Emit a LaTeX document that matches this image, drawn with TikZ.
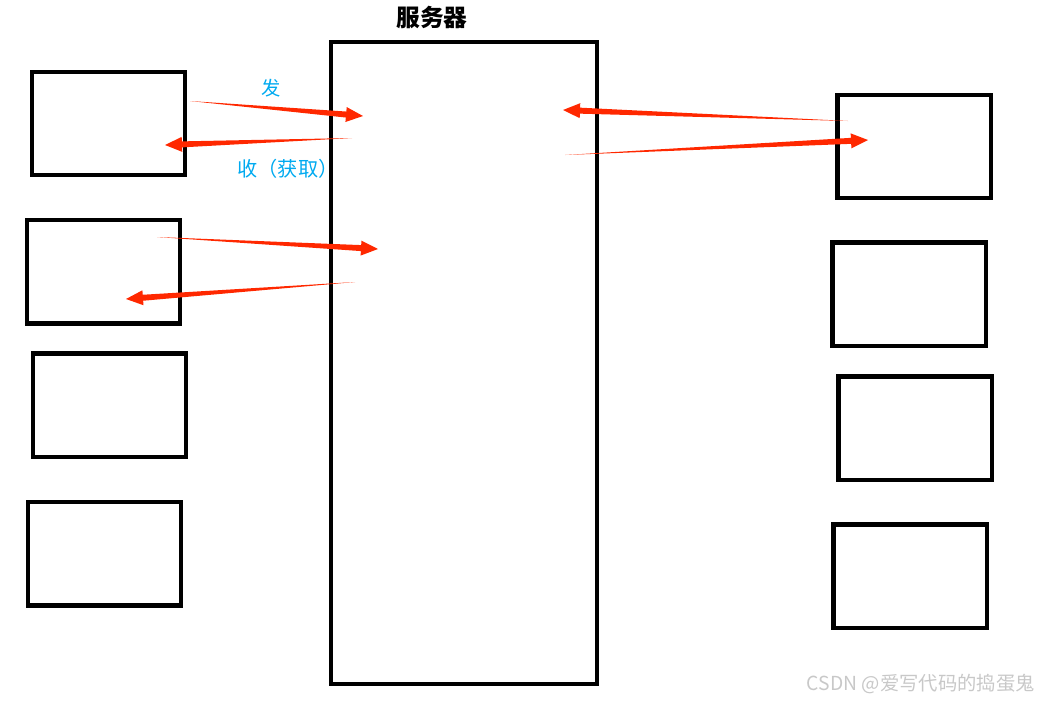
\documentclass[tikz,border=0pt]{standalone}
\usepackage{fontspec}
\newfontfamily\cjk{Noto Sans CJK SC}
\usetikzlibrary{calc}
\definecolor{arrowred}{RGB}{255,40,0}
\definecolor{labelblue}{RGB}{0,170,240}
\definecolor{markgray}{RGB}{200,200,200}
% tapered arrow: thin tail, wide shaft end, filled head
\newcommand{\fatarrow}[2]{%
  \path ($(#2)!0.34cm!(#1)$) coordinate (hb);
  \fill[arrowred] (#1) -- ($(hb)!0.06cm!90:(#2)$) -- ($(hb)!0.15cm!90:(#2)$) -- (#2)
    -- ($(hb)!0.15cm!-90:(#2)$) -- ($(hb)!0.06cm!-90:(#2)$) -- cycle;}
\begin{document}
\begin{tikzpicture}[x=0.02cm, y=-0.02cm,
    box/.style={draw, line width=0.09cm, minimum width=3.07cm, minimum height=2.07cm, inner sep=0pt},
    note/.style={font=\cjk\fontsize{11}{13}\selectfont, text=labelblue}]
  \useasboundingbox (0,0) rectangle (1044,701);
  % Server
  \node[box, minimum width=5.32cm, minimum height=12.84cm] (srv) at (464,363) {};
  \node[font=\cjk\bfseries\fontsize{13.5}{16}\selectfont] (srvlab) at (432,17) {服务器};
  % Clients, left and right
  \foreach \n/\x/\y in {l1/108.5/123.5, l2/103.5/271.5, l3/109.5/405, l4/104.5/553.5,
                        r1/914/146.5, r2/909/294, r3/915/428, r4/910/576} {
    \node[box] (\n) at (\x,\y) {};
  }
  % Arrow ends
  \coordinate (a1) at (190,101);  \coordinate (b1) at (363,116);
  \coordinate (a2) at (352,138);  \coordinate (b2) at (165,145);
  \coordinate (a3) at (848,121);  \coordinate (b3) at (563,110);
  \coordinate (a4) at (565,155);  \coordinate (b4) at (868,140);
  \coordinate (a5) at (157,237);  \coordinate (b5) at (378,249);
  \coordinate (a6) at (355,282);  \coordinate (b6) at (126,299);
  % Send / receive arrows
  \foreach \i in {1,...,6} {
    \fatarrow{a\i}{b\i}
  }
  % Labels
  \node[note] (send) at (271,88) {发};
  \node[note, font=\cjk\fontsize{11.5}{13}\selectfont] (recv) at (288,169) {收（获取）};
  % Watermark
  \node[font=\cjk\fontsize{11}{13}\selectfont, text=markgray, anchor=east] (mark) at (1041,684) {CSDN @爱写代码的捣蛋鬼};
\end{tikzpicture}
\end{document}
